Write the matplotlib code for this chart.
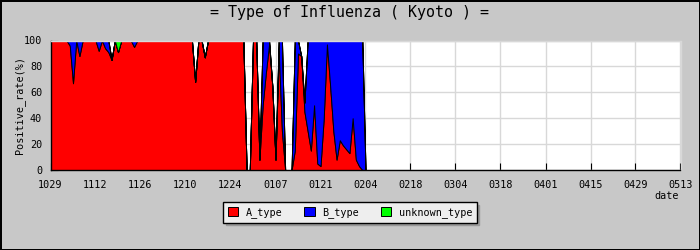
import matplotlib
matplotlib.use("Agg")
import matplotlib.pyplot as plt
from matplotlib.ticker import FixedLocator

# ---- data (daily, starting 10/29) ----
tick_labels = ["1029", "1112", "1126", "1210", "1224", "0107", "0121", "0204",
               "0218", "0304", "0318", "0401", "0415", "0429", "0513"]
series_names = ["A_type", "B_type", "unknown_type"]

a_type = [
    100, 100, 100, 100, 100, 100, 96, 67, 100, 88,      # d0-9
    100, 100, 100, 100, 100, 92, 100, 94, 91, 85,       # d10-19
    100, 91, 100, 100, 100, 100, 95, 100, 100, 100,     # d20-29
    100, 100, 100, 100, 100, 100, 100, 100, 100, 100,   # d30-39
    100, 100, 100, 100, 100, 68, 100, 100, 87, 100,     # d40-49
    100, 100, 100, 100, 100, 100, 100, 100, 100, 100,   # d50-59
    100, 0, 0, 100, 100, 8, 50, 75, 97, 65,             # d60-69
    8, 92, 30, 0, 0, 0, 15, 90, 88, 45,                 # d70-79
    30, 15, 50, 5, 3, 40, 97, 65, 30, 8,                # d80-89
    23, 19, 16, 13, 40, 8, 3, 0, 0,                     # d90-98
]
b_type = [
    0, 0, 0, 0, 0, 0, 4, 33, 0, 12,
    0, 0, 0, 0, 0, 8, 0, 6, 9, 0,
    0, 0, 0, 0, 0, 0, 5, 0, 0, 0,
    0, 0, 0, 0, 0, 0, 0, 0, 0, 0,
    0, 0, 0, 0, 0, 0, 0, 0, 0, 0,
    0, 0, 0, 0, 0, 0, 0, 0, 0, 0,
    0, 0, 0, 0, 0, 0, 50, 25, 3, 0,
    0, 8, 70, 0, 0, 0, 85, 10, 0, 7,
    70, 85, 50, 95, 97, 60, 3, 35, 70, 92,
    77, 81, 84, 87, 60, 92, 97, 100, 0,
]
unknown_type = [
    0, 0, 0, 0, 0, 0, 0, 0, 0, 0,
    0, 0, 0, 0, 0, 0, 0, 0, 0, 0,
    0, 9, 0, 0, 0, 0, 0, 0, 0, 0,
    0, 0, 0, 0, 0, 0, 0, 0, 0, 0,
    0, 0, 0, 0, 0, 0, 0, 0, 0, 0,
    0, 0, 0, 0, 0, 0, 0, 0, 0, 0,
    0, 0, 0, 0, 0, 0, 0, 0, 0, 0,
    0, 0, 0, 0, 0, 0, 0, 0, 0, 0,
    0, 0, 0, 0, 0, 0, 0, 0, 0, 0,
    0, 0, 0, 0, 0, 0, 0, 0, 0,
]
days = list(range(len(a_type)))

plt.rcParams['font.family'] = ['DejaVu Sans Mono']
SMALL = 7.3

fig = plt.figure(figsize=(7, 2.5), dpi=100, facecolor='#c8c8c8')
fig.patch.set_edgecolor('black')
fig.patch.set_linewidth(2)

ax = fig.add_axes([50.5 / 700, 1 - 170 / 250, 630 / 700, 129.5 / 250])
ax.set_facecolor('white')

polys = ax.stackplot(days, a_type, b_type, unknown_type,
                     colors=['#ff0000', '#0000ff', '#00ff00'],
                     edgecolor='black', linewidth=0.7, labels=series_names)
for p in polys:
    p.set_antialiased(False)

ax.set_xlim(0, 196)
ax.set_ylim(0, 100)
ax.set_xticks(range(0, 197, 14))
ax.set_xticklabels(tick_labels)
ax.set_yticks(range(0, 101, 20))
ax.yaxis.set_minor_locator(FixedLocator([10, 30, 50, 70, 90]))
ax.tick_params(which='major', direction='in', length=5, width=0.8,
               labelsize=SMALL, colors='black', top=False, right=False)
ax.tick_params(which='minor', direction='in', length=3, width=0.8,
               top=False, right=False, bottom=False)
ax.tick_params(axis='x', pad=7)
ax.tick_params(axis='y', pad=6)
ax.grid(True, which='major', color='#d8d8d8', linewidth=1)
ax.set_axisbelow(True)

for s in ['top', 'right']:
    ax.spines[s].set_color('#d8d8d8')
    ax.spines[s].set_linewidth(1)
for s in ['left', 'bottom']:
    ax.spines[s].set_color('black')
    ax.spines[s].set_linewidth(1)

fig.text(0.5, 1 - 13 / 250, "= Type of Influenza ( Kyoto ) =",
         ha='center', va='center', fontsize=10.8)
fig.text(20 / 700, 1 - 105 / 250, "Positive_rate(%)", rotation=90,
         ha='center', va='center', fontsize=SMALL)
fig.text(667 / 700, 1 - 196 / 250, "date", ha='center', va='center',
         fontsize=SMALL)

leg = fig.legend(handles=polys, labels=series_names, loc='center',
                 bbox_to_anchor=(350 / 700, 1 - 212.5 / 250), ncol=3,
                 frameon=True, fancybox=False,
                 shadow={'color': '#999999', 'alpha': 1},
                 fontsize=SMALL, handlelength=1.0, handleheight=1.0,
                 handletextpad=0.73, columnspacing=2.2, borderpad=0.45)
frame = leg.get_frame()
frame.set_edgecolor('black')
frame.set_facecolor('#eeeeee')
frame.set_alpha(1)
frame.set_linewidth(1)

fig.savefig("out.png", dpi=100, facecolor=fig.get_facecolor(),
            edgecolor=fig.get_edgecolor())
